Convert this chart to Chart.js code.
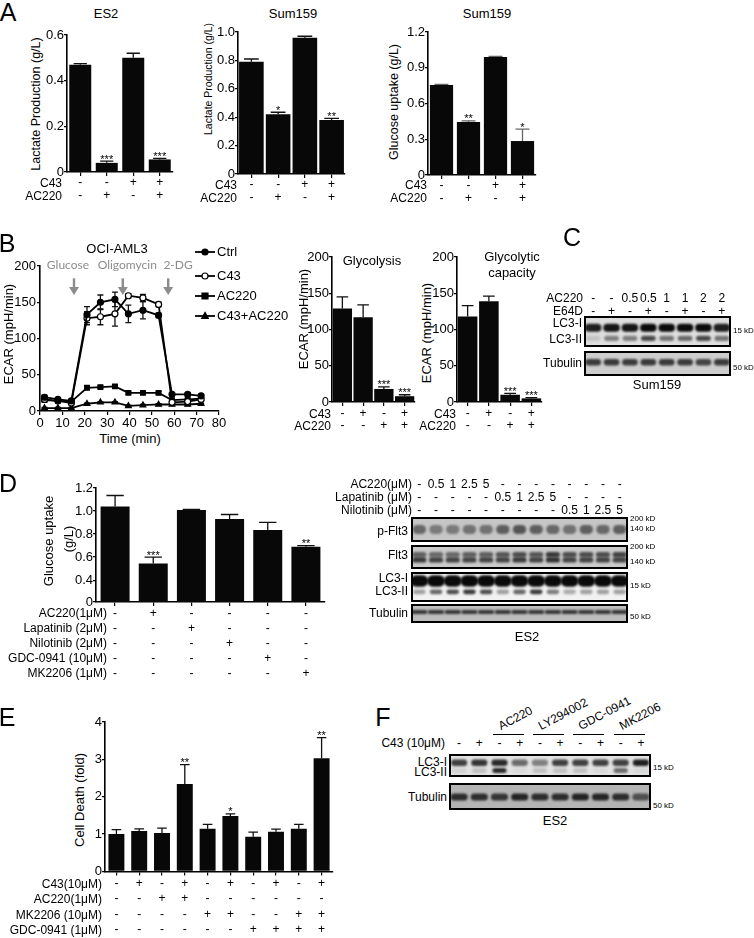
<!DOCTYPE html>
<html>
<head>
<meta charset="utf-8">
<script src="https://cdn.jsdelivr.net/npm/chart.js@4.4.1/dist/chart.umd.min.js"></script>
<style>
  body { margin: 0; background: #fff; }
  #fig { position: relative; width: 754px; height: 938px; overflow: hidden;
         font-family: "Liberation Sans", Arial, sans-serif; color: #000; }
  #fig canvas { position: absolute; }
  .t { position: absolute; white-space: nowrap; line-height: 1; font-size: 12px; }
  .r { transform: translate(-100%, -50%); }
  .c { transform: translate(-50%, -50%); }
  .l { transform: translate(0, -50%); }
  .v { transform: translate(-50%, -50%) rotate(-90deg); }
  .g { transform-origin: 0 100%; transform: translate(0, -100%) rotate(-28deg); }
  .ln { position: absolute; height: 0; border-top: 1.5px solid #000; }
</style>
</head>
<body>
<div id="fig"></div>
<script>
// ---------- data ----------
// A
const aC43 = ['-', '-', '+', '+'];
const aAC220 = ['-', '+', '-', '+'];
const es2Lactate = [0.47, 0.04, 0.50, 0.055];
const es2LactateErr = [0.005, 0.008, 0.02, 0.005];
const es2LactateSig = ['', '***', '', '***'];
const sumLactate = [0.79, 0.42, 0.96, 0.38];
const sumLactateErr = [0.02, 0.015, 0.01, 0.012];
const sumLactateSig = ['', '*', '', '**'];
const sumGlucose = [0.755, 0.445, 0.99, 0.285];
const sumGlucoseErr = [0.005, 0.01, 0.005, 0.10];
const sumGlucoseSig = ['', '**', '', '*'];

// B
const bTime = [2, 8, 14, 21, 27, 33.5, 39.5, 46, 53, 59, 66, 72];
const bCtrl = [19, 16, 14, 133, 150, 154, 134, 139, 132, 23, 23, 21];
const bCtrlErr = [3, 2, 2, 11, 10, 10, 12, 12, 3, 2, 2, 2];
const bC43 = [16, 14, 11, 128, 130, 134, 159, 156, 147, 12, 13, 16];
const bC43Err = [2, 2, 2, 9, 11, 17, 3, 5, 3, 2, 2, 2];
const bAC220 = [15, 14, 13, 32, 33, 34, 25, 25, 25, 15, 16, 17];
const bAC220Err = [1, 1, 1, 2, 2, 2, 2, 2, 2, 1, 1, 1];
const bCombo = [4, 4, 4, 10, 12, 12, 7, 8, 9, 9, 9, 10];
const bComboErr = [1, 1, 1, 1, 1, 1, 1, 1, 1, 1, 1, 1];
const bSeriesNames = ['Ctrl', 'C43', 'AC220', 'C43+AC220'];
const bInjections = ['Glucose', 'Oligomycin', '2-DG'];
const bInjectionTimes = [15.2, 37, 57.3];
const bInjectionLabelX = [12.5, 39, 61.7];

const gC43 = ['-', '+', '-', '+'];
const gAC220 = ['-', '-', '+', '+'];
const glycolysis = [129, 117, 18, 8];
const glycolysisErr = [16, 17, 3, 2];
const glycolysisSig = ['', '', '***', '***'];
const glyCapacity = [118, 139, 10, 5];
const glyCapacityErr = [15, 7, 2, 1];
const glyCapacitySig = ['', '', '***', '***'];

// C blot
const cAC220 = ['-', '-', '0.5', '0.5', '1', '1', '2', '2'];
const cE64D = ['-', '+', '-', '+', '-', '+', '-', '+'];
const cLC3I = [0.9, 0.95, 0.95, 1, 1, 1, 1, 0.9];
const cLC3II = [0.12, 0.45, 0.45, 0.7, 0.5, 0.55, 0.7, 0.5];
const cTub = [0.75, 0.75, 0.75, 0.75, 0.75, 0.75, 0.7, 0.75];

// D
const dRowNames = ['AC220(1μM)', 'Lapatinib (2μM)', 'Nilotinib (2μM)', 'GDC-0941 (10μM)', 'MK2206 (1μM)'];
const dAC220 = ['-', '+', '-', '-', '-', '-'];
const dLapatinib = ['-', '-', '+', '-', '-', '-'];
const dNilotinib = ['-', '-', '-', '+', '-', '-'];
const dGDC = ['-', '-', '-', '-', '+', '-'];
const dMK = ['-', '-', '-', '-', '-', '+'];
const dGlucose = [1.04, 0.545, 1.01, 0.93, 0.835, 0.69];
const dGlucoseErr = [0.095, 0.055, 0.005, 0.04, 0.067, 0.01];
const dGlucoseSig = ['', '***', '', '', '', '**'];
const dTickValues = [0.21, 0.4, 0.6, 0.8, 1.0, 1.2];
const dTickLabels = ['0', '0.4', '0.6', '0.8', '1.0', '1.2'];

const dBlotAC220 = ['-', '0.5', '1', '2.5', '5', '-', '-', '-', '-', '-', '-', '-', '-'];
const dBlotLap = ['-', '-', '-', '-', '-', '0.5', '1', '2.5', '5', '-', '-', '-', '-'];
const dBlotNil = ['-', '-', '-', '-', '-', '-', '-', '-', '-', '0.5', '1', '2.5', '5'];
const dPFlt3 = [0.5, 0.4, 0.4, 0.45, 0.45, 0.55, 0.6, 0.55, 0.5, 0.45, 0.55, 0.5, 0.55];
const dFlt3Up = [0.55, 0.5, 0.5, 0.55, 0.55, 0.6, 0.65, 0.6, 0.75, 0.65, 0.65, 0.65, 0.7];
const dFlt3Low = [0.75, 0.7, 0.7, 0.7, 0.7, 0.7, 0.75, 0.7, 0.8, 0.7, 0.7, 0.7, 0.7];
const dLC3I = [1, 1, 1, 1, 1, 1, 1, 1, 1, 1, 1, 1, 1];
const dLC3II = [0.35, 0.6, 0.7, 0.8, 0.7, 0.35, 0.6, 0.8, 0.5, 0.3, 0.35, 0.35, 0.35];
const dTub = [0.75, 0.75, 0.75, 0.75, 0.75, 0.75, 0.75, 0.75, 0.75, 0.75, 0.75, 0.75, 0.75];

// E
const eRowNames = ['C43(10μM)', 'AC220(1μM)', 'MK2206 (10μM)', 'GDC-0941 (1μM)'];
const eC43 = ['-', '+', '-', '+', '-', '+', '-', '+', '-', '+'];
const eAC220 = ['-', '-', '+', '+', '-', '-', '-', '-', '-', '-'];
const eMK = ['-', '-', '-', '-', '+', '+', '-', '-', '+', '+'];
const eGDC = ['-', '-', '-', '-', '-', '-', '+', '+', '+', '+'];
const eDeath = [1.0, 1.08, 1.03, 2.34, 1.14, 1.48, 0.93, 1.06, 1.14, 3.03];
const eDeathErr = [0.12, 0.06, 0.13, 0.52, 0.12, 0.06, 0.12, 0.07, 0.12, 0.55];
const eDeathSig = ['', '', '', '**', '', '*', '', '', '', '**'];

// F blot
const fGroups = ['AC220', 'LY294002', 'GDC-0941', 'MK2206'];
const fC43 = ['-', '+', '-', '+', '-', '+', '-', '+', '-', '+'];
const fLC3I = [0.75, 0.8, 0.85, 0.55, 0.45, 0.75, 0.75, 0.75, 0.75, 0.9];
const fLC3II = [0.08, 0.15, 0.85, 0.04, 0.15, 0.15, 0.15, 0.05, 0.55, 0.05];
const fTub = [0.8, 0.8, 0.75, 0.85, 0.8, 0.8, 0.85, 0.85, 0.8, 0.6];

// ---------- helpers ----------
Chart.defaults.font.family = '"Liberation Sans", Arial, sans-serif';
Chart.defaults.color = '#000';
const fig = document.getElementById('fig');

function txt(x, y, s, cls, size, color) {
  const d = document.createElement('div');
  d.className = 't ' + cls;
  d.textContent = s;
  d.style.left = x + 'px';
  d.style.top = y + 'px';
  if (size) d.style.fontSize = size + 'px';
  if (color) d.style.color = color;
  fig.appendChild(d);
  return d;
}

function canvasAt(x, y, w, h) {
  const cv = document.createElement('canvas');
  cv.width = w; cv.height = h;
  cv.style.left = x + 'px'; cv.style.top = y + 'px';
  fig.appendChild(cv);
  return cv;
}

// error bars (and significance stars) drawn through the chart scales
const errPlugin = {
  id: 'errbars',
  beforeDatasetsDraw(chart) {
    const ctx = chart.ctx, ys = chart.scales.y;
    chart.data.datasets.forEach((ds, di) => {
      if (!ds.err) return;
      chart.getDatasetMeta(di).data.forEach((el, i) => {
        const raw = ds.data[i];
        const v = typeof raw === 'object' ? raw.y : raw;
        const hi = ys.getPixelForValue(v + ds.err[i]);
        const lo = ds.both ? ys.getPixelForValue(v - ds.err[i]) : el.y;
        const half = ds.both ? 3 : el.width * 0.3;
        ctx.save();
        ctx.strokeStyle = ds.errColor || '#111';
        ctx.lineWidth = 1.3;
        ctx.beginPath();
        ctx.moveTo(el.x, lo); ctx.lineTo(el.x, hi);
        ctx.moveTo(el.x - half, hi); ctx.lineTo(el.x + half, hi);
        if (ds.both) { ctx.moveTo(el.x - half, lo); ctx.lineTo(el.x + half, lo); }
        ctx.stroke();
        ctx.restore();
      });
    });
  },
  afterDatasetsDraw(chart) {
    const ctx = chart.ctx, ys = chart.scales.y;
    chart.data.datasets.forEach((ds, di) => {
      if (!ds.sig) return;
      chart.getDatasetMeta(di).data.forEach((el, i) => {
        if (!ds.sig[i]) return;
        const hi = ys.getPixelForValue(ds.data[i] + ds.err[i]);
        ctx.save();
        ctx.fillStyle = '#000';
        ctx.font = '11px "Liberation Sans", Arial, sans-serif';
        ctx.textAlign = 'center';
        ctx.textBaseline = 'alphabetic';
        ctx.fillText(ds.sig[i], el.x, hi + 1.5);
        ctx.restore();
      });
    });
  }
};

function barChart(o) {
  const yW = 44, padT = 10, padR = 4;
  const xH = o.rowOff + o.rowH * o.rows.length;
  const areaW = o.x1 - o.x0, areaH = o.y1 - o.y0;
  const cv = canvasAt(o.x0 - yW, o.y0 - padT, yW + areaW + padR, padT + areaH + xH);
  const labels = o.values.map((_, i) => o.rows.map(r => r[i]));
  new Chart(cv, {
    type: 'bar',
    data: {
      labels,
      datasets: [{
        data: o.values, err: o.err, sig: o.sig, errColor: o.errColor,
        backgroundColor: '#080808', barPercentage: o.bp, categoryPercentage: 1
      }]
    },
    options: {
      responsive: false, animation: false, events: [],
      layout: { padding: { top: padT, right: padR, left: 0, bottom: 0 } },
      plugins: { legend: { display: false }, tooltip: { enabled: false } },
      scales: {
        x: {
          grid: { drawOnChartArea: false, offset: false, tickLength: 4, color: '#000', lineWidth: 1.2 },
          border: { color: '#000', width: 1.6 },
          ticks: {
            autoSkip: false, maxRotation: 0, color: '#000',
            padding: Math.max(0, o.rowOff - 4 - o.rowH / 2),
            font: { size: 12, lineHeight: o.rowH / 12 }
          },
          afterFit: s => { s.height = xH; }
        },
        y: {
          min: o.min, max: o.max,
          grid: { drawOnChartArea: false, tickLength: 3, color: '#000', lineWidth: 1.2 },
          border: { color: '#000', width: 1.6 },
          ticks: { padding: 0, font: { size: 13 }, callback: (v, i) => o.tickLabels[i] },
          afterBuildTicks: s => { s.ticks = o.ticks.map(v => ({ value: v })); },
          afterFit: s => { s.width = yW; }
        }
      }
    },
    plugins: [errPlugin]
  });
  o.rowNames.forEach((n, k) => txt(o.nameX, o.y1 + o.rowOff + o.rowH * k, n, 'r', 12));
}

function drawMarker(ctx, style, x, y, r, fill) {
  ctx.save();
  ctx.fillStyle = fill; ctx.strokeStyle = '#000'; ctx.lineWidth = 1.2;
  ctx.beginPath();
  if (style === 'circle') ctx.arc(x, y, r, 0, Math.PI * 2);
  else if (style === 'rect') ctx.rect(x - r, y - r, 2 * r, 2 * r);
  else { ctx.moveTo(x, y - r * 1.2); ctx.lineTo(x + r * 1.1, y + r * 0.8); ctx.lineTo(x - r * 1.1, y + r * 0.8); ctx.closePath(); }
  ctx.fill(); ctx.stroke();
  ctx.restore();
}

// blots: bands placed by lane index / relative height through the chart scales
function blot(b) {
  const cv = canvasAt(b.x, b.y, b.w, b.h);
  const n = b.bands[0].vals.length;
  new Chart(cv, {
    type: 'scatter',
    data: {
      datasets: b.bands.map(bd => ({
        data: bd.vals.map((v, i) => ({ x: i, y: bd.y })),
        vals: bd.vals, bh: bd.h, bw: bd.w, pointRadius: 0
      }))
    },
    options: {
      responsive: false, animation: false, events: [],
      layout: { padding: 0 },
      plugins: { legend: { display: false }, tooltip: { enabled: false } },
      scales: {
        x: { display: false, min: -0.5, max: n - 0.5 },
        y: { display: false, min: 0, max: 1, reverse: true }
      }
    },
    plugins: [{
      id: 'blot',
      beforeDatasetsDraw(ch) {
        const ctx = ch.ctx, ca = ch.chartArea;
        ctx.save();
        ctx.fillStyle = b.bg;
        ctx.fillRect(ca.left, ca.top, ca.right - ca.left, ca.bottom - ca.top);
        ctx.restore();
      },
      afterDatasetsDraw(ch) {
        const ctx = ch.ctx, ca = ch.chartArea;
        const lw = (ca.right - ca.left) / n, H = ca.bottom - ca.top;
        ctx.save();
        ctx.beginPath(); ctx.rect(ca.left, ca.top, ca.right - ca.left, H); ctx.clip();
        ctx.filter = 'blur(1.1px)';
        ch.data.datasets.forEach((ds, di) => {
          ch.getDatasetMeta(di).data.forEach((el, i) => {
            const w = ds.bw * lw, h = ds.bh * H;
            ctx.fillStyle = 'rgba(10,10,10,' + ds.vals[i] + ')';
            ctx.beginPath();
            if (ctx.roundRect) ctx.roundRect(el.x - w / 2, el.y - h / 2, w, h, Math.min(h / 2, w / 3));
            else ctx.ellipse(el.x, el.y, w / 2, h / 2, 0, 0, Math.PI * 2);
            ctx.fill();
          });
        });
        ctx.restore();
        ctx.save();
        ctx.strokeStyle = '#000'; ctx.lineWidth = 2;
        ctx.strokeRect(ca.left + 1, ca.top + 1, ca.right - ca.left - 2, H - 2);
        ctx.restore();
      }
    }]
  });
  return i => b.x + (i + 0.5) * b.w / n;
}

// ---------- panel A ----------
txt(8, 12, 'A', 'c', 25);
txt(106, 13, 'ES2', 'c', 13);
txt(293, 13, 'Sum159', 'c', 13);
txt(487, 13, 'Sum159', 'c', 13);
txt(36, 104, 'Lactate Production (g/L)', 'v', 12.5);
txt(208, 79, 'Lactate Production (g/L)', 'v', 10.5);
txt(394, 102, 'Glucose uptake (g/L)', 'v', 12.5);

barChart({ x0: 67, x1: 173, y0: 35, y1: 172, min: 0, max: 0.6,
  ticks: [0, 0.2, 0.4, 0.6], tickLabels: ['0', '0.2', '0.4', '0.6'],
  values: es2Lactate, err: es2LactateErr, sig: es2LactateSig,
  rows: [aC43, aAC220], rowNames: ['C43', 'AC220'], nameX: 62, rowH: 13, rowOff: 11, bp: 0.83 });
barChart({ x0: 238, x1: 345, y0: 32, y1: 174, min: 0, max: 1.0,
  ticks: [0, 0.2, 0.4, 0.6, 0.8, 1.0], tickLabels: ['0', '0.2', '0.4', '0.6', '0.8', '1.0'],
  values: sumLactate, err: sumLactateErr, sig: sumLactateSig,
  rows: [aC43, aAC220], rowNames: ['C43', 'AC220'], nameX: 237, rowH: 13, rowOff: 11, bp: 0.92 });
barChart({ x0: 428, x1: 536, y0: 32, y1: 175, min: 0, max: 1.2,
  ticks: [0, 0.3, 0.6, 0.9, 1.2], tickLabels: ['0', '0.3', '0.6', '0.9', '1.2'],
  values: sumGlucose, err: sumGlucoseErr, sig: sumGlucoseSig, errColor: '#666',
  rows: [aC43, aAC220], rowNames: ['C43', 'AC220'], nameX: 427, rowH: 13, rowOff: 10, bp: 0.86 });

// ---------- panel B ----------
txt(7, 243, 'B', 'c', 25);
txt(117, 248, 'OCI-AML3', 'c', 13);
txt(8, 334, 'ECAR (mpH/min)', 'v', 13);
txt(130, 438, 'Time (min)', 'c', 13);
(function () {
  const x0 = 40, x1 = 219, y0 = 266, y1 = 411;
  const yW = 40, padT = 26, padR = 82, xH = 20;
  const left = x0 - yW, top = y0 - padT;
  const cv = canvasAt(left, top, yW + (x1 - x0) + padR, padT + (y1 - y0) + xH);
  const mk = (ys, err, style, fill) => ({
    data: bTime.map((t, i) => ({ x: t, y: ys[i] })), err, both: true,
    showLine: true, borderColor: '#000', borderWidth: 1.8,
    pointStyle: style, pointRadius: style === 'circle' ? 3 : 3.3,
    pointBackgroundColor: fill, pointBorderColor: '#000', pointBorderWidth: 1.2
  });
  const styles = [['circle', '#000'], ['circle', '#fff'], ['rect', '#000'], ['triangle', '#000']];
  const legendY = [252, 276, 296, 316];
  new Chart(cv, {
    type: 'scatter',
    data: { datasets: [
      mk(bCtrl, bCtrlErr, 'circle', '#000'),
      mk(bC43, bC43Err, 'circle', '#fff'),
      mk(bAC220, bAC220Err, 'rect', '#000'),
      mk(bCombo, bComboErr, 'triangle', '#000')
    ] },
    options: {
      responsive: false, animation: false, events: [],
      layout: { padding: { top: padT, right: padR, left: 0, bottom: 0 } },
      plugins: { legend: { display: false }, tooltip: { enabled: false } },
      scales: {
        x: { type: 'linear', min: 0, max: 80,
          grid: { drawOnChartArea: false, tickLength: 4, color: '#000', lineWidth: 1.2 },
          border: { color: '#000', width: 1.6 },
          ticks: { stepSize: 10, padding: 1, font: { size: 13 } },
          afterFit: s => { s.height = xH; } },
        y: { min: 0, max: 200,
          grid: { drawOnChartArea: false, tickLength: 3, color: '#000', lineWidth: 1.2 },
          border: { color: '#000', width: 1.6 },
          ticks: { stepSize: 50, padding: 1, font: { size: 13 } },
          afterFit: s => { s.width = yW; } }
      }
    },
    plugins: [errPlugin, {
      id: 'annot',
      afterDatasetsDraw(ch) {
        const ctx = ch.ctx, xs = ch.scales.x, ys = ch.scales.y;
        ctx.save();
        ctx.fillStyle = '#8c8c8c'; ctx.strokeStyle = '#8c8c8c';
        ctx.font = '12px Lato, "Open Sans", sans-serif';
        ctx.textAlign = 'center'; ctx.textBaseline = 'middle';
        bInjections.forEach((name, k) => {
          ctx.fillText(name, xs.getPixelForValue(bInjectionLabelX[k]), ys.getPixelForValue(201.5));
          const ax = xs.getPixelForValue(bInjectionTimes[k]);
          const a0 = ys.getPixelForValue(183), a1 = ys.getPixelForValue(160);
          ctx.lineWidth = 2.4;
          ctx.beginPath(); ctx.moveTo(ax, a0); ctx.lineTo(ax, a1 - 7); ctx.stroke();
          ctx.beginPath(); ctx.moveTo(ax - 5, a1 - 8); ctx.lineTo(ax + 5, a1 - 8); ctx.lineTo(ax, a1); ctx.closePath(); ctx.fill();
        });
        ctx.restore();
        // legend with line + marker
        ctx.save();
        ctx.font = '13px "Liberation Sans", Arial, sans-serif';
        ctx.textBaseline = 'middle'; ctx.fillStyle = '#000';
        bSeriesNames.forEach((name, k) => {
          const y = legendY[k] - top;
          const lx0 = 195 - left, lx1 = 215 - left;
          ctx.strokeStyle = '#000'; ctx.lineWidth = 1.8;
          ctx.beginPath(); ctx.moveTo(lx0, y); ctx.lineTo(lx1, y); ctx.stroke();
          drawMarker(ctx, styles[k][0], (lx0 + lx1) / 2, y, 3, styles[k][1]);
          ctx.fillText(name, 217 - left, y);
        });
        ctx.restore();
      }
    }]
  });
})();

txt(372, 260, 'Glycolysis', 'c', 13);
txt(512, 256, 'Glycolytic', 'c', 13);
txt(512, 272, 'capacity', 'c', 13);
txt(303, 319, 'ECAR (mpH/min)', 'v', 13);
txt(426, 333, 'ECAR (mpH/min)', 'v', 13);
barChart({ x0: 332, x1: 415, y0: 257, y1: 402, min: 0, max: 200,
  ticks: [0, 50, 100, 150, 200], tickLabels: ['0', '50', '100', '150', '200'],
  values: glycolysis, err: glycolysisErr, sig: glycolysisSig,
  rows: [gC43, gAC220], rowNames: ['C43', 'AC220'], nameX: 331, rowH: 12, rowOff: 12, bp: 0.93 });
barChart({ x0: 457, x1: 542, y0: 257, y1: 402, min: 0, max: 200,
  ticks: [0, 50, 100, 150, 200], tickLabels: ['0', '50', '100', '150', '200'],
  values: glyCapacity, err: glyCapacityErr, sig: glyCapacitySig,
  rows: [gC43, gAC220], rowNames: ['C43', 'AC220'], nameX: 456, rowH: 12, rowOff: 12, bp: 0.92 });

// ---------- panel C ----------
txt(572, 237, 'C', 'c', 25);
{
  const lane = blot({ x: 584, y: 316, w: 147, h: 31, bg: '#dedede', bands: [
    { y: 0.38, h: 0.26, w: 0.9, vals: cLC3I },
    { y: 0.72, h: 0.17, w: 0.8, vals: cLC3II } ] });
  blot({ x: 584, y: 351, w: 147, h: 25, bg: '#cdcdcd', bands: [
    { y: 0.45, h: 0.26, w: 0.85, vals: cTub } ] });
  txt(583, 298, 'AC220', 'r', 12);
  txt(583, 311, 'E64D', 'r', 12);
  cAC220.forEach((s, i) => txt(lane(i), 298, s, 'c', 12));
  cE64D.forEach((s, i) => txt(lane(i), 311, s, 'c', 12));
  txt(582, 323, 'LC3-I', 'r', 12);
  txt(582, 339, 'LC3-II', 'r', 12);
  txt(582, 363, 'Tubulin', 'r', 12);
  txt(733, 331, '15 kD', 'l', 8);
  txt(733, 368, '50 kD', 'l', 8);
  txt(657, 384, 'Sum159', 'c', 13);
}

// ---------- panel D ----------
txt(8, 483, 'D', 'c', 25);
txt(48, 541, 'Glucose uptake', 'v', 13);
txt(68, 539, '(g/L)', 'v', 13);
barChart({ x0: 96, x1: 325, y0: 488, y1: 602, min: 0.21, max: 1.2,
  ticks: dTickValues, tickLabels: dTickLabels,
  values: dGlucose, err: dGlucoseErr, sig: dGlucoseSig,
  rows: [dAC220, dLapatinib, dNilotinib, dGDC, dMK], rowNames: dRowNames, nameX: 107,
  rowH: 15, rowOff: 11, bp: 0.76 });
{
  const lane = blot({ x: 411, y: 517, w: 217, h: 25, bg: '#c6c6c6', bands: [
    { y: 0.5, h: 0.36, w: 0.8, vals: dPFlt3 } ] });
  blot({ x: 411, y: 545, w: 217, h: 24, bg: '#cacaca', bands: [
    { y: 0.4, h: 0.22, w: 0.85, vals: dFlt3Up },
    { y: 0.62, h: 0.22, w: 0.85, vals: dFlt3Low } ] });
  blot({ x: 411, y: 572, w: 217, h: 30, bg: '#f2f2f2', bands: [
    { y: 0.3, h: 0.38, w: 1.08, vals: dLC3I },
    { y: 0.66, h: 0.16, w: 0.75, vals: dLC3II } ] });
  blot({ x: 411, y: 604, w: 217, h: 19, bg: '#bdbdbd', bands: [
    { y: 0.42, h: 0.22, w: 0.98, vals: dTub } ] });
  txt(412, 484, 'AC220(μM)', 'r', 12);
  txt(412, 497, 'Lapatinib (μM)', 'r', 12);
  txt(412, 510, 'Nilotinib (μM)', 'r', 12);
  dBlotAC220.forEach((s, i) => txt(lane(i), 484, s, 'c', 12));
  dBlotLap.forEach((s, i) => txt(lane(i), 497, s, 'c', 12));
  dBlotNil.forEach((s, i) => txt(lane(i), 510, s, 'c', 12));
  txt(408, 531, 'p-Flt3', 'r', 12);
  txt(408, 555, 'Flt3', 'r', 12);
  txt(408, 578, 'LC3-I', 'r', 12);
  txt(408, 591, 'LC3-II', 'r', 12);
  txt(408, 613, 'Tubulin', 'r', 12);
  txt(630, 519, '200 kD', 'l', 8);
  txt(630, 529, '140 kD', 'l', 8);
  txt(630, 547, '200 kD', 'l', 8);
  txt(630, 562, '140 kD', 'l', 8);
  txt(630, 586, '15 kD', 'l', 8);
  txt(630, 617, '50 kD', 'l', 8);
  txt(527, 636, 'ES2', 'c', 13);
}

// ---------- panel E ----------
txt(7, 717, 'E', 'c', 25);
txt(79, 800, 'Cell Death (fold)', 'v', 13);
barChart({ x0: 105, x1: 333, y0: 722, y1: 872, min: 0, max: 4,
  ticks: [0, 1, 2, 3, 4], tickLabels: ['0', '1', '2', '3', '4'],
  values: eDeath, err: eDeathErr, sig: eDeathSig,
  rows: [eC43, eAC220, eMK, eGDC], rowNames: eRowNames, nameX: 102,
  rowH: 15.4, rowOff: 12, bp: 0.7 });

// ---------- panel F ----------
txt(383, 717, 'F', 'c', 25);
{
  const lane = blot({ x: 449, y: 754, w: 202, h: 23, bg: '#e2e2e2', bands: [
    { y: 0.38, h: 0.28, w: 0.8, vals: fLC3I },
    { y: 0.72, h: 0.22, w: 0.7, vals: fLC3II } ] });
  blot({ x: 449, y: 783, w: 202, h: 27, bg: '#b4b4b4', bands: [
    { y: 0.52, h: 0.26, w: 0.85, vals: fTub } ] });
  txt(445, 743, 'C43 (10μM)', 'r', 12);
  fC43.forEach((s, i) => txt(lane(i), 743, s, 'c', 12));
  fGroups.forEach((g, k) => {
    const a = lane(2 + 2 * k) - 7, b2 = lane(3 + 2 * k) + 4;
    const d = document.createElement('div');
    d.className = 'ln';
    d.style.left = a + 'px'; d.style.top = '734px'; d.style.width = (b2 - a) + 'px';
    fig.appendChild(d);
    txt(a + 9, 732, g, 'g', 12);
  });
  txt(447, 762, 'LC3-I', 'r', 12);
  txt(447, 772, 'LC3-II', 'r', 12);
  txt(447, 797, 'Tubulin', 'r', 12);
  txt(653, 768, '15 kD', 'l', 8);
  txt(653, 806, '50 kD', 'l', 8);
  txt(555, 820, 'ES2', 'c', 13);
}
</script>
</body>
</html>
